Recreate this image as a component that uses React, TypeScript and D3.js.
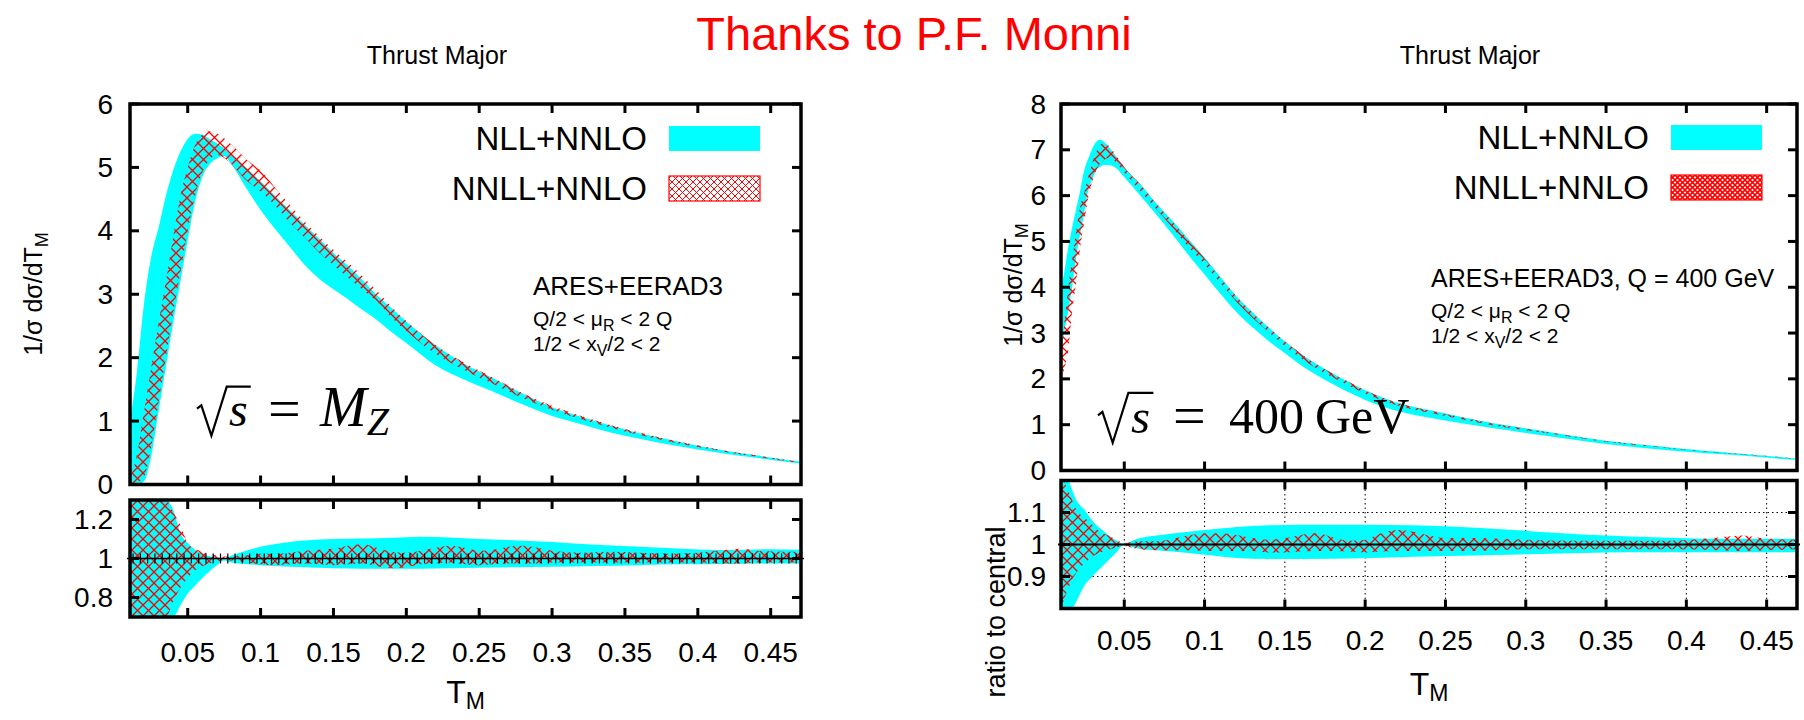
import React from "react";
import * as d3 from "d3";

// ---------- Thrust major at sqrt(s) = M_Z ----------
const tMZ = [0.0104, 0.015, 0.02, 0.025, 0.03, 0.035, 0.04, 0.045, 0.05, 0.055, 0.06, 0.065, 0.07, 0.075, 0.08, 0.09, 0.1, 0.11, 0.12, 0.13, 0.14, 0.15, 0.16, 0.17, 0.18, 0.19, 0.2, 0.22, 0.24, 0.26, 0.28, 0.3, 0.32, 0.34, 0.36, 0.38, 0.4, 0.42, 0.44, 0.46, 0.471];
const nllLoMZ = [0.0, 0.0, 0.05, 0.45, 1.15, 1.85, 2.55, 3.2, 3.85, 4.45, 4.85, 5.05, 5.14, 5.18, 5.05, 4.68, 4.33, 4.03, 3.75, 3.47, 3.25, 3.08, 2.92, 2.75, 2.59, 2.4, 2.23, 1.88, 1.65, 1.46, 1.26, 1.08, 0.95, 0.82, 0.72, 0.63, 0.55, 0.48, 0.42, 0.36, 0.33];
const nllHiMZ = [1.0, 1.75, 2.85, 3.6, 4.05, 4.55, 4.95, 5.25, 5.45, 5.53, 5.52, 5.45, 5.38, 5.3, 5.2, 5.0, 4.78, 4.55, 4.33, 4.1, 3.88, 3.65, 3.45, 3.22, 2.98, 2.78, 2.57, 2.2, 1.9, 1.67, 1.43, 1.22, 1.07, 0.93, 0.81, 0.71, 0.61, 0.53, 0.46, 0.39, 0.36];
const nnllLoMZ = [0.0, 0.03, 0.12, 0.6, 1.3, 2.0, 2.7, 3.35, 4.0, 4.55, 4.92, 5.12, 5.2, 5.15, 5.05, 4.8, 4.62, 4.4, 4.13, 3.9, 3.66, 3.46, 3.26, 3.07, 2.88, 2.63, 2.42, 2.06, 1.8, 1.58, 1.36, 1.18, 1.03, 0.9, 0.78, 0.68, 0.59, 0.51, 0.44, 0.37, 0.34];
const nnllHiMZ = [0.1, 0.45, 1.15, 1.85, 2.55, 3.2, 3.9, 4.55, 5.0, 5.35, 5.52, 5.57, 5.54, 5.46, 5.36, 5.13, 4.95, 4.68, 4.41, 4.15, 3.92, 3.7, 3.5, 3.28, 3.05, 2.8, 2.58, 2.2, 1.92, 1.68, 1.44, 1.24, 1.08, 0.94, 0.82, 0.71, 0.62, 0.53, 0.46, 0.39, 0.36];

const tNllRatioMZ = [0.0104, 0.035, 0.04, 0.045, 0.05, 0.055, 0.06, 0.065, 0.07, 0.075, 0.08, 0.09, 0.1, 0.11, 0.12, 0.13, 0.14, 0.15, 0.17, 0.19, 0.21, 0.23, 0.25, 0.27, 0.3, 0.33, 0.36, 0.39, 0.42, 0.45, 0.471];
const nllRatioLoMZ = [0.7, 0.7, 0.7, 0.76, 0.82, 0.86, 0.9, 0.935, 0.965, 0.99, 0.98, 0.972, 0.966, 0.962, 0.958, 0.955, 0.952, 0.95, 0.948, 0.948, 0.948, 0.95, 0.952, 0.955, 0.958, 0.962, 0.966, 0.97, 0.972, 0.974, 0.975];
const nllRatioHiMZ = [1.3, 1.3, 1.25, 1.13, 1.08, 1.045, 1.025, 1.012, 1.005, 1.002, 1.015, 1.04, 1.06, 1.075, 1.085, 1.092, 1.097, 1.1, 1.102, 1.106, 1.112, 1.108, 1.1, 1.095, 1.085, 1.07, 1.06, 1.05, 1.043, 1.048, 1.045];

const tNnllRatioMZ = [0.0104, 0.035, 0.04, 0.045, 0.05, 0.055, 0.06, 0.065, 0.07, 0.075, 0.08, 0.09, 0.1, 0.11, 0.12, 0.13, 0.14, 0.15, 0.16, 0.17, 0.18, 0.19, 0.2, 0.21, 0.22, 0.23, 0.24, 0.25, 0.26, 0.27, 0.28, 0.29, 0.3, 0.32, 0.34, 0.36, 0.38, 0.4, 0.42, 0.43, 0.44, 0.46, 0.471];
const nnllRatioLoMZ = [0.7, 0.7, 0.78, 0.85, 0.9, 0.94, 0.96, 0.975, 0.985, 0.99, 0.99, 0.98, 0.97, 0.965, 0.97, 0.975, 0.97, 0.965, 0.97, 0.975, 0.96, 0.95, 0.955, 0.97, 0.975, 0.98, 0.97, 0.965, 0.97, 0.975, 0.975, 0.975, 0.98, 0.98, 0.98, 0.98, 0.98, 0.98, 0.975, 0.975, 0.98, 0.98, 0.98];
const nnllRatioHiMZ = [1.3, 1.3, 1.24, 1.17, 1.08, 1.05, 1.035, 1.025, 1.015, 1.01, 1.012, 1.015, 1.025, 1.025, 1.03, 1.04, 1.045, 1.05, 1.065, 1.075, 1.055, 1.035, 1.03, 1.04, 1.055, 1.065, 1.055, 1.04, 1.045, 1.06, 1.065, 1.055, 1.04, 1.03, 1.035, 1.03, 1.025, 1.03, 1.045, 1.05, 1.04, 1.035, 1.035];

// ---------- Thrust major at sqrt(s) = 400 GeV ----------
const t400 = [0.0106, 0.0125, 0.015, 0.0175, 0.02, 0.0225, 0.025, 0.0275, 0.03, 0.0325, 0.035, 0.0375, 0.04, 0.045, 0.05, 0.06, 0.07, 0.08, 0.09, 0.1, 0.11, 0.12, 0.13, 0.14, 0.15, 0.16, 0.17, 0.18, 0.19, 0.2, 0.22, 0.24, 0.26, 0.28, 0.3, 0.32, 0.34, 0.36, 0.38, 0.4, 0.42, 0.44, 0.46, 0.469];
const nllLo400 = [2.6, 3.0, 3.45, 4.0, 4.65, 5.15, 5.6, 6.1, 6.35, 6.55, 6.63, 6.67, 6.67, 6.6, 6.4, 6.0, 5.58, 5.15, 4.7, 4.28, 3.85, 3.45, 3.12, 2.82, 2.56, 2.3, 2.08, 1.88, 1.7, 1.54, 1.3, 1.15, 1.03, 0.92, 0.82, 0.72, 0.62, 0.54, 0.47, 0.41, 0.36, 0.31, 0.25, 0.23];
const nllHi400 = [4.0, 4.3, 4.85, 5.3, 5.7, 6.1, 6.55, 6.8, 7.02, 7.17, 7.22, 7.17, 7.08, 6.85, 6.62, 6.25, 5.83, 5.45, 5.05, 4.65, 4.22, 3.8, 3.45, 3.12, 2.82, 2.55, 2.32, 2.12, 1.93, 1.75, 1.48, 1.32, 1.17, 1.03, 0.92, 0.81, 0.7, 0.61, 0.54, 0.47, 0.41, 0.35, 0.29, 0.26];
const nnllLo400 = [1.95, 2.2, 2.6, 3.45, 4.1, 4.85, 5.4, 5.95, 6.3, 6.55, 6.7, 6.78, 6.82, 6.72, 6.5, 6.1, 5.7, 5.3, 4.88, 4.5, 4.08, 3.68, 3.33, 3.02, 2.72, 2.45, 2.22, 2.03, 1.85, 1.68, 1.42, 1.26, 1.12, 0.98, 0.88, 0.78, 0.67, 0.59, 0.52, 0.45, 0.39, 0.34, 0.28, 0.25];
const nnllHi400 = [2.6, 3.15, 3.95, 4.6, 5.2, 5.75, 6.05, 6.4, 6.7, 6.95, 7.1, 7.17, 7.1, 6.88, 6.62, 6.25, 5.83, 5.43, 5.02, 4.63, 4.2, 3.8, 3.44, 3.12, 2.82, 2.55, 2.31, 2.11, 1.93, 1.75, 1.48, 1.31, 1.16, 1.02, 0.91, 0.8, 0.69, 0.61, 0.53, 0.46, 0.4, 0.35, 0.29, 0.26];

const tNllRatio400 = [0.0106, 0.015, 0.0175, 0.02, 0.025, 0.03, 0.035, 0.04, 0.045, 0.0495, 0.055, 0.06, 0.07, 0.08, 0.1, 0.12, 0.14, 0.16, 0.2, 0.23, 0.26, 0.29, 0.32, 0.35, 0.38, 0.42, 0.469];
const nllRatioLo400 = [0.8, 0.8, 0.8, 0.82, 0.87, 0.9, 0.925, 0.95, 0.975, 0.998, 0.992, 0.986, 0.982, 0.978, 0.968, 0.958, 0.955, 0.955, 0.957, 0.962, 0.965, 0.968, 0.972, 0.975, 0.976, 0.976, 0.976];
const nllRatioHi400 = [1.2, 1.2, 1.17, 1.14, 1.11, 1.075, 1.05, 1.03, 1.013, 1.002, 1.012, 1.02, 1.028, 1.034, 1.045, 1.055, 1.06, 1.062, 1.062, 1.06, 1.055, 1.046, 1.036, 1.028, 1.023, 1.018, 1.018];

const tNnllRatio400 = [0.0106, 0.012, 0.0141, 0.0175, 0.02, 0.025, 0.03, 0.035, 0.04, 0.045, 0.05, 0.055, 0.06, 0.07, 0.08, 0.09, 0.1, 0.11, 0.12, 0.13, 0.14, 0.15, 0.16, 0.17, 0.18, 0.19, 0.2, 0.21, 0.22, 0.23, 0.24, 0.25, 0.27, 0.3, 0.33, 0.36, 0.39, 0.42, 0.435, 0.45, 0.469];
const nnllRatioLo400 = [0.8, 0.82, 0.85, 0.89, 0.91, 0.94, 0.962, 0.975, 0.983, 0.99, 0.995, 0.99, 0.985, 0.982, 0.982, 0.982, 0.98, 0.98, 0.98, 0.98, 0.975, 0.975, 0.978, 0.98, 0.98, 0.978, 0.975, 0.978, 0.98, 0.98, 0.98, 0.98, 0.98, 0.985, 0.985, 0.985, 0.985, 0.982, 0.98, 0.982, 0.985];
const nnllRatioHi400 = [1.2, 1.2, 1.18, 1.14, 1.11, 1.085, 1.062, 1.04, 1.028, 1.015, 1.005, 1.008, 1.01, 1.01, 1.018, 1.028, 1.035, 1.035, 1.03, 1.02, 1.015, 1.02, 1.03, 1.036, 1.022, 1.012, 1.015, 1.035, 1.045, 1.04, 1.028, 1.02, 1.02, 1.015, 1.012, 1.012, 1.012, 1.022, 1.028, 1.018, 1.015];

// ---------- axes and labels ----------
const xTicks = [0.05, 0.1, 0.15, 0.2, 0.25, 0.3, 0.35, 0.4, 0.45];
const xTickLabels = ["0.05", "0.1", "0.15", "0.2", "0.25", "0.3", "0.35", "0.4", "0.45"];
const yTicksMZ = [0, 1, 2, 3, 4, 5, 6];
const yTicks400 = [0, 1, 2, 3, 4, 5, 6, 7, 8];
const ratioTicksMZ = [0.8, 1, 1.2];
const ratioTickLabelsMZ = ["0.8", "1", "1.2"];
const ratioTicks400 = [0.9, 1, 1.1];
const ratioTickLabels400 = ["0.9", "1", "1.1"];
const seriesNames = ["NLL+NNLO", "NNLL+NNLO"];
const binWidth = 0.005;

const SANS = "'Liberation Sans', Arial, Helvetica, sans-serif";
const SERIF = "'Liberation Serif', 'Times New Roman', serif";
const CYAN = "#00ffff";
const RED = "#ff0000";

type Band = { t: number[]; lo: number[]; hi: number[] };

function bandPath(b: Band, x: d3.ScaleLinear<number, number>, y: d3.ScaleLinear<number, number>) {
  return (
    d3
      .area<number>()
      .x((_, i) => x(b.t[i]))
      .y0((_, i) => y(b.lo[i]))
      .y1((_, i) => y(b.hi[i]))
      .curve(d3.curveMonotoneX)(b.t) || ""
  );
}

type PanelProps = {
  id: string;
  left: number;
  right: number;
  top: number;
  topBottom: number;
  ratioTop: number;
  ratioBottom: number;
  xDomain: [number, number];
  yTicks: number[];
  ratioDomain: [number, number];
  ratioTicks: number[];
  ratioTickLabels: string[];
  nll: Band;
  nnll: Band;
  nllRatio: Band;
  nnllRatio: Band;
  grid: boolean;
  centralBins: boolean;
  xLabelY: number;
  tmY: number;
  yLabelX: number;
  yLabelY: number;
  tickGap: number;
  titleX: number;
};

function Panel(p: PanelProps) {
  const x = d3.scaleLinear().domain(p.xDomain).range([p.left, p.right]);
  const yMax = p.yTicks[p.yTicks.length - 1];
  const y = d3.scaleLinear().domain([0, yMax]).range([p.topBottom, p.top]);
  const r = d3.scaleLinear().domain(p.ratioDomain).range([p.ratioBottom, p.ratioTop]);
  const cx = (p.left + p.right) / 2;
  const w = p.right - p.left;
  const tick = 9;
  const bins = p.centralBins ? d3.range(0.0125, p.xDomain[1], binWidth) : [];

  return (
    <g>
      <defs>
        <clipPath id={`${p.id}-clipTop`}>
          <rect x={p.left} y={p.top} width={w} height={p.topBottom - p.top} />
        </clipPath>
        <clipPath id={`${p.id}-clipRatio`}>
          <rect x={p.left} y={p.ratioTop} width={w} height={p.ratioBottom - p.ratioTop} />
        </clipPath>
      </defs>

      {/* distribution bands */}
      <g clipPath={`url(#${p.id}-clipTop)`}>
        <path d={bandPath(p.nll, x, y)} fill={CYAN} />
        <path d={bandPath(p.nnll, x, y)} fill="url(#xhatch)" />
      </g>

      {/* ratio panel */}
      {p.grid && (
        <g stroke="#000" strokeWidth={1} strokeDasharray="1.5,3">
          {xTicks.map((v) => (
            <line key={`gx${v}`} x1={x(v)} x2={x(v)} y1={p.ratioTop} y2={p.ratioBottom} />
          ))}
          {p.ratioTicks
            .filter((v) => v !== 1)
            .map((v) => (
              <line key={`gy${v}`} x1={p.left} x2={p.right} y1={r(v)} y2={r(v)} />
            ))}
        </g>
      )}
      <g clipPath={`url(#${p.id}-clipRatio)`}>
        <path d={bandPath(p.nllRatio, x, r)} fill={CYAN} />
        <path d={bandPath(p.nnllRatio, x, r)} fill="url(#xhatch)" />
      </g>
      <line x1={p.left - 3} x2={p.right + 3} y1={r(1)} y2={r(1)} stroke="#000" strokeWidth={p.grid ? 2.2 : 1.6} />
      {bins.map((b) => (
        <line key={`b${b}`} x1={x(b)} x2={x(b)} y1={r(1) - 5} y2={r(1) + 5} stroke="#000" strokeWidth={1.2} />
      ))}

      {/* frames */}
      <rect x={p.left} y={p.top} width={w} height={p.topBottom - p.top} fill="none" stroke="#000" strokeWidth={3.5} />
      <rect x={p.left} y={p.ratioTop} width={w} height={p.ratioBottom - p.ratioTop} fill="none" stroke="#000" strokeWidth={3.5} />

      {/* tick marks */}
      <g stroke="#000" strokeWidth={3}>
        {xTicks.map((v) => (
          <g key={`xt${v}`}>
            <line x1={x(v)} x2={x(v)} y1={p.top} y2={p.top + tick} />
            <line x1={x(v)} x2={x(v)} y1={p.topBottom} y2={p.topBottom - tick} />
            <line x1={x(v)} x2={x(v)} y1={p.ratioTop} y2={p.ratioTop + tick} />
            <line x1={x(v)} x2={x(v)} y1={p.ratioBottom} y2={p.ratioBottom - tick} />
          </g>
        ))}
        {p.yTicks.map((v) => (
          <g key={`yt${v}`}>
            <line x1={p.left} x2={p.left + tick} y1={y(v)} y2={y(v)} />
            <line x1={p.right} x2={p.right - tick} y1={y(v)} y2={y(v)} />
          </g>
        ))}
        {p.ratioTicks.map((v) => (
          <g key={`rt${v}`}>
            <line x1={p.left} x2={p.left + tick} y1={r(v)} y2={r(v)} />
            <line x1={p.right} x2={p.right - tick} y1={r(v)} y2={r(v)} />
          </g>
        ))}
      </g>

      {/* tick labels */}
      <g fontSize={28} fill="#000">
        {xTicks.map((v, i) => (
          <text key={`xl${v}`} x={x(v)} y={p.xLabelY} textAnchor="middle">
            {xTickLabels[i]}
          </text>
        ))}
        {p.yTicks.map((v) => (
          <text key={`yl${v}`} x={p.left - p.tickGap} y={y(v)} textAnchor="end" dominantBaseline="central">
            {String(v)}
          </text>
        ))}
        {p.ratioTicks.map((v, i) => (
          <text key={`rl${v}`} x={p.left - p.tickGap} y={r(v)} textAnchor="end" dominantBaseline="central">
            {p.ratioTickLabels[i]}
          </text>
        ))}
      </g>

      {/* axis titles */}
      <text x={cx} y={p.tmY} textAnchor="middle" fontSize={32}>
        T<tspan fontSize={23} dy={6}>M</tspan>
      </text>
      <text transform={`translate(${p.yLabelX},${p.yLabelY}) rotate(-90)`} textAnchor="middle" fontSize={25}>
        1/σ dσ/dT<tspan fontSize={18} dy={6}>M</tspan>
      </text>
      <text x={p.titleX} y={64} textAnchor="middle" fontSize={25}>
        Thrust Major
      </text>
    </g>
  );
}

function Legend({ textRight, swatchX, y0, hatchId }: { textRight: number; swatchX: number; y0: number; hatchId: string }) {
  const sw = 91;
  const sh = 25;
  return (
    <g fontSize={33}>
      <text x={textRight} y={y0 + 24} textAnchor="end">
        {seriesNames[0]}
      </text>
      <rect x={swatchX} y={y0} width={sw} height={sh} fill={CYAN} />
      <text x={textRight} y={y0 + 74} textAnchor="end">
        {seriesNames[1]}
      </text>
      <rect x={swatchX} y={y0 + 50} width={sw} height={sh} fill={`url(#${hatchId})`} stroke={RED} strokeWidth={1.2} />
    </g>
  );
}

function Settings({ x, y, head, size }: { x: number; y: number; head: string; size: number }) {
  return (
    <g>
      <text x={x} y={y} fontSize={size}>
        {head}
      </text>
      <text x={x} y={y + 31} fontSize={21}>
        Q/2 &lt; μ<tspan fontSize={16} dy={5}>R</tspan>
        <tspan dy={-5}> &lt; 2 Q</tspan>
      </text>
      <text x={x} y={y + 56} fontSize={21}>
        1/2 &lt; x<tspan fontSize={16} dy={5}>V</tspan>
        <tspan dy={-5}>/2 &lt; 2</tspan>
      </text>
    </g>
  );
}

function Radical({ x0, yb, F, over }: { x0: number; yb: number; F: number; over: number }) {
  const d = [
    [x0, yb - 0.36 * F],
    [x0 + 0.09 * F, yb - 0.43 * F],
    [x0 + 0.3 * F, yb + 0.2 * F],
    [x0 + 0.62 * F, yb - 0.82 * F],
    [x0 + 0.62 * F + over, yb - 0.82 * F],
  ];
  return <path d={d3.line()(d as [number, number][]) || ""} fill="none" stroke="#000" strokeWidth={2.2} strokeLinejoin="miter" />;
}

export default function App() {
  const mz = {
    nll: { t: tMZ, lo: nllLoMZ, hi: nllHiMZ },
    nnll: { t: tMZ, lo: nnllLoMZ, hi: nnllHiMZ },
    nllRatio: { t: tNllRatioMZ, lo: nllRatioLoMZ, hi: nllRatioHiMZ },
    nnllRatio: { t: tNnllRatioMZ, lo: nnllRatioLoMZ, hi: nnllRatioHiMZ },
  };
  const q400 = {
    nll: { t: t400, lo: nllLo400, hi: nllHi400 },
    nnll: { t: t400, lo: nnllLo400, hi: nnllHi400 },
    nllRatio: { t: tNllRatio400, lo: nllRatioLo400, hi: nllRatioHi400 },
    nnllRatio: { t: tNnllRatio400, lo: nnllRatioLo400, hi: nnllRatioHi400 },
  };

  return (
    <svg
      width={1804}
      height={720}
      viewBox="0 0 1804 720"
      style={{ position: "absolute", left: 0, top: 0, background: "#fff" }}
      fontFamily={SANS}
    >
      <defs>
        <pattern id="xhatch" patternUnits="userSpaceOnUse" width={11} height={11}>
          <path d="M0,0L11,11M11,0L0,11" stroke={RED} strokeWidth={1.3} fill="none" />
        </pattern>
        <pattern id="xhatchLegend" patternUnits="userSpaceOnUse" width={7} height={7}>
          <path d="M0,0L7,7M7,0L0,7" stroke={RED} strokeWidth={1} fill="none" />
        </pattern>
        <pattern id="xhatchDense" patternUnits="userSpaceOnUse" width={5} height={5}>
          <path d="M0,0L5,5M5,0L0,5" stroke={RED} strokeWidth={1.6} fill="none" />
        </pattern>
      </defs>
      <rect x={0} y={0} width={1804} height={720} fill="#fff" />

      <text x={914} y={50} textAnchor="middle" fontSize={47} fill={RED}>
        Thanks to P.F. Monni
      </text>

      <Panel
        id="mz"
        left={130}
        right={801}
        top={104}
        topBottom={484.5}
        ratioTop={500}
        ratioBottom={617}
        xDomain={[0.0104, 0.4708]}
        yTicks={yTicksMZ}
        ratioDomain={[0.7, 1.3]}
        ratioTicks={ratioTicksMZ}
        ratioTickLabels={ratioTickLabelsMZ}
        {...mz}
        grid={false}
        centralBins={true}
        xLabelY={662}
        tmY={703}
        yLabelX={42}
        yLabelY={294}
        tickGap={17}
        titleX={437}
      />
      <Panel
        id="q400"
        left={1061}
        right={1797}
        top={104}
        topBottom={470.5}
        ratioTop={480.5}
        ratioBottom={608.5}
        xDomain={[0.0106, 0.4689]}
        yTicks={yTicks400}
        ratioDomain={[0.8, 1.2]}
        ratioTicks={ratioTicks400}
        ratioTickLabels={ratioTickLabels400}
        {...q400}
        grid={true}
        centralBins={false}
        xLabelY={650}
        tmY={695}
        yLabelX={1022}
        yLabelY={285}
        tickGap={15}
        titleX={1470}
      />
      <text transform="translate(1005,612) rotate(-90)" textAnchor="middle" fontSize={27}>
        ratio to central
      </text>

      <Legend textRight={647} swatchX={669} y0={126} hatchId="xhatchLegend" />
      <Legend textRight={1649} swatchX={1671} y0={125} hatchId="xhatchDense" />

      <Settings x={533} y={295} head="ARES+EERAD3" size={26} />
      <Settings x={1431} y={287} head="ARES+EERAD3, Q = 400 GeV" size={25} />

      {/* sqrt(s) = M_Z */}
      <Radical x0={197} yb={426} F={48} over={24} />
      <g fontFamily={SERIF}>
        <text x={229} y={426} fontSize={48} fontStyle="italic">s</text>
        <text x={268} y={428} fontSize={58}>=</text>
        <text x={320} y={426} fontSize={56} fontStyle="italic">
          M<tspan fontSize={40} dy={9}>Z</tspan>
        </text>
      </g>

      {/* sqrt(s) = 400 GeV */}
      <Radical x0={1098} yb={433} F={49} over={25} />
      <g fontFamily={SERIF}>
        <text x={1131} y={433} fontSize={49} fontStyle="italic">s</text>
        <text x={1173} y={435} fontSize={58}>=</text>
        <text x={1229} y={433} fontSize={50}>400</text>
        <text x={1315} y={433} fontSize={50}>GeV</text>
      </g>
    </svg>
  );
}
